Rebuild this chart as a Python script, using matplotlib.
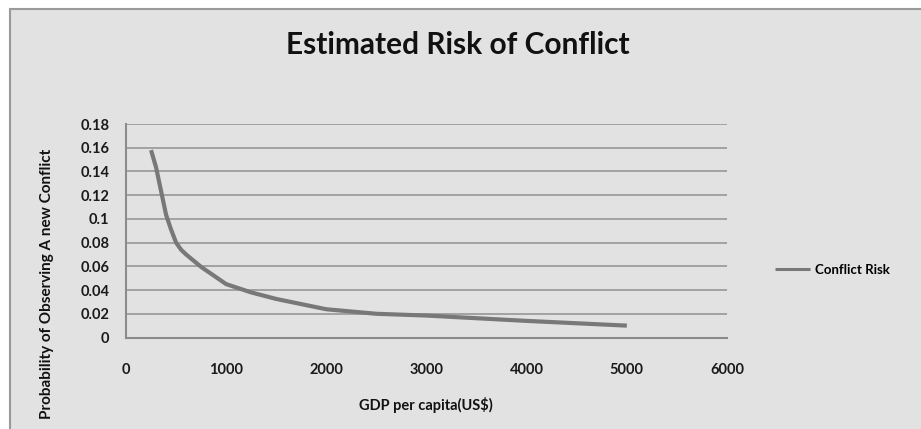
import numpy as np
import matplotlib.pyplot as plt
from matplotlib.patches import Rectangle

# values
gdp = [250, 300, 350, 400, 450, 500, 550, 600, 750, 1000, 1250, 1500,
       2000, 2500, 3000, 4000, 5000]
risk = [0.158, 0.1435, 0.1235, 0.1035, 0.091, 0.080, 0.074, 0.070, 0.0595,
        0.045, 0.038, 0.0325, 0.0238, 0.020, 0.0185, 0.014, 0.010]
x_ticks = [0, 1000, 2000, 3000, 4000, 5000, 6000]
y_ticks = [0, 0.02, 0.04, 0.06, 0.08, 0.1, 0.12, 0.14, 0.16, 0.18]
y_labels = ['0', '0.02', '0.04', '0.06', '0.08', '0.1', '0.12', '0.14', '0.16', '0.18']

BG = '#e2e2e2'
GRID = '#a2a2a2'
LINE = '#787878'
FONT = ['Lato', 'DejaVu Sans']

plt.rcParams['font.family'] = FONT

fig = plt.figure(figsize=(9.21, 4.29), dpi=100)
fig.patch.set_facecolor('white')
W, H = 921, 429

# chart area frame (cut at right and bottom like the screenshot)
fig.patches.append(Rectangle((10 / W, -0.05), 1.1, 1 - 9 / H + 0.05,
                             transform=fig.transFigure, facecolor=BG,
                             edgecolor='#9a9a9a', linewidth=1.5, zorder=-5))

ax = fig.add_axes([126 / W, 1 - 337.5 / H, (727 - 126) / W, (337.5 - 124) / H])
ax.set_zorder(2)
ax.patch.set_alpha(0)

ax.plot(gdp, risk, color=LINE, linewidth=3.0, solid_capstyle='butt',
        solid_joinstyle='round', label='Conflict Risk', zorder=3)

ax.set_xlim(0, 6000)
ax.set_ylim(0, 0.18)
ax.set_xticks(x_ticks)
ax.set_yticks(y_ticks)
ax.set_yticklabels(y_labels)
ax.yaxis.grid(True, color=GRID, linewidth=1.4)
ax.set_axisbelow(True)
for s in ['top', 'right']:
    ax.spines[s].set_visible(False)
for s in ['left', 'bottom']:
    ax.spines[s].set_color('#8c8c8c')
    ax.spines[s].set_linewidth(1.5)
ax.tick_params(axis='both', length=0, labelsize=10.5, colors='#1a1a1a')
ax.tick_params(axis='x', pad=18)
ax.tick_params(axis='y', pad=12)
for lab in ax.get_xticklabels() + ax.get_yticklabels():
    lab.set_fontweight('bold')

fig.text(458 / W, 1 - 45 / H, 'Estimated Risk of Conflict', ha='center',
         va='center', fontsize=21.5, fontweight='bold', color='#111111')
fig.text(426 / W, 1 - 405 / H, 'GDP per capita(US$)', ha='center',
         va='center', fontsize=10.5, fontweight='bold', color='#111111')
fig.text(47 / W, 1 - 284 / H, 'Probability of Observing A new Conflict',
         ha='center', va='center', rotation=90, fontsize=11,
         fontweight='bold', color='#111111')

leg = ax.legend(loc='center left', bbox_to_anchor=(770 / W, 1 - 270 / H),
                bbox_transform=fig.transFigure, frameon=False,
                handlelength=2.6, handletextpad=0.4, borderaxespad=0,
                prop={'family': FONT, 'weight': 'bold', 'size': 9.5})
leg.get_lines()[0].set_linewidth(2.2)

fig.savefig('out.png', dpi=100)
